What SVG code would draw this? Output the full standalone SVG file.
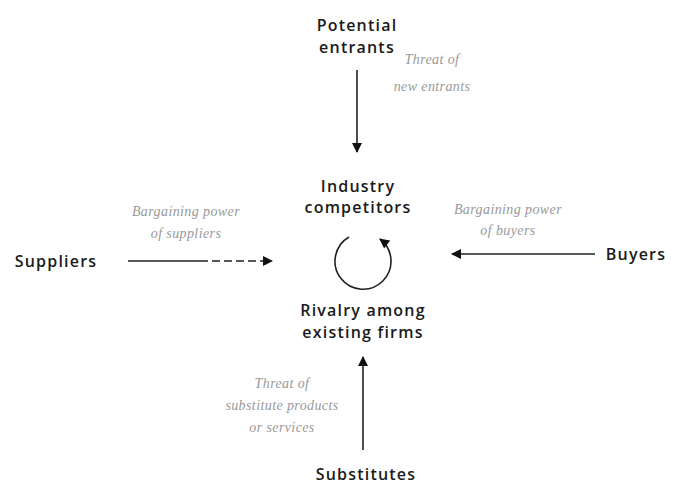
<svg xmlns="http://www.w3.org/2000/svg" width="699" height="488" viewBox="0 0 699 488">
<style>
.node{font-family:"Open Sans","Liberation Sans",sans-serif;font-size:16px;font-weight:600;letter-spacing:1.2px;fill:#1a1a1a;text-anchor:middle}
.lbl{font-family:"Liberation Serif","DejaVu Serif",serif;font-size:14px;font-style:italic;letter-spacing:0.4px;fill:#999;text-anchor:middle}
.edge{stroke:#222;stroke-width:1.6;fill:none}
</style>
<defs>
<marker id="ahb" viewBox="0 0 10 10" refX="9" refY="5" markerWidth="14" markerHeight="10" markerUnits="userSpaceOnUse" orient="auto">
<path d="M0,0 L10,5 L0,10 Z" fill="#111"/>
</marker>
</defs>
<rect width="699" height="488" fill="#fff"/>
<g id="connectors">
<line class="edge" x1="357" y1="70" x2="357" y2="152" marker-end="url(#ahb)"/>
<line class="edge" x1="128" y1="261" x2="200" y2="261"/>
<line class="edge" x1="200" y1="261" x2="272" y2="261" stroke-dasharray="8,4" marker-end="url(#ahb)"/>
<line class="edge" x1="595" y1="254" x2="452" y2="254" marker-end="url(#ahb)"/>
<line class="edge" x1="363" y1="450" x2="363" y2="357" marker-end="url(#ahb)"/>
<path class="edge" d="M349,237 A28,28 0 1,0 380,239" stroke-width="1.8" marker-end="url(#ahb)"/>
</g>
<g id="potential-entrants">
<text class="node" x="357" y="31">Potential</text>
<text class="node" x="357" y="53">entrants</text>
</g>
<g id="threat-new-entrants">
<text class="lbl" x="432" y="64">Threat of</text>
<text class="lbl" x="432" y="91">new entrants</text>
</g>
<g id="industry-competitors">
<text class="node" x="358" y="192">Industry</text>
<text class="node" x="358" y="213">competitors</text>
<text class="node" x="363" y="316">Rivalry among</text>
<text class="node" x="363" y="338">existing firms</text>
</g>
<g id="suppliers">
<text class="node" x="56" y="267">Suppliers</text>
</g>
<g id="bp-suppliers">
<text class="lbl" x="186" y="216">Bargaining power</text>
<text class="lbl" x="186" y="238">of suppliers</text>
</g>
<g id="buyers">
<text class="node" x="636" y="260">Buyers</text>
</g>
<g id="bp-buyers">
<text class="lbl" x="508" y="214">Bargaining power</text>
<text class="lbl" x="508" y="235">of buyers</text>
</g>
<g id="threat-substitutes">
<text class="lbl" x="282" y="388">Threat of</text>
<text class="lbl" x="282" y="410">substitute products</text>
<text class="lbl" x="282" y="432">or services</text>
</g>
<g id="substitutes">
<text class="node" x="366" y="480">Substitutes</text>
</g>
</svg>
